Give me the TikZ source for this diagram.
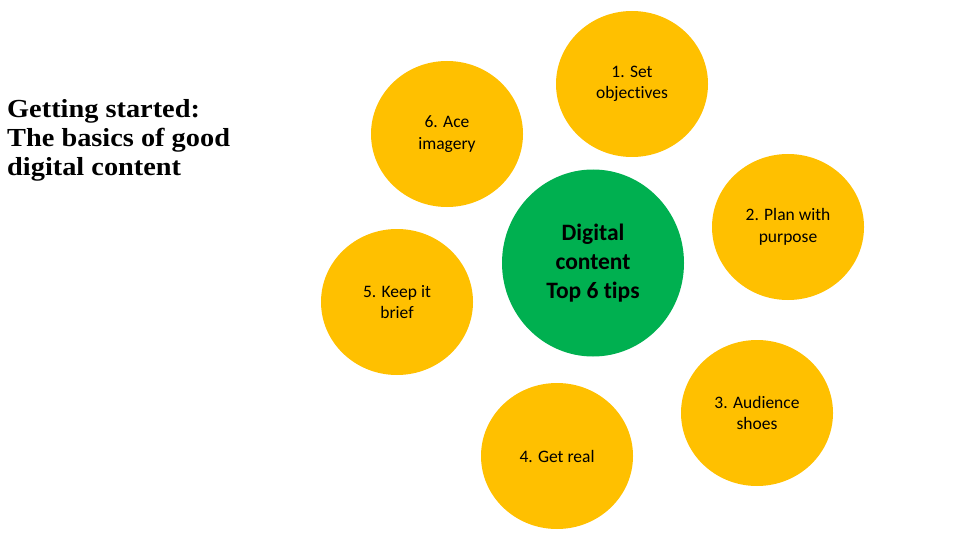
\documentclass[tikz,border=0pt]{standalone}
\usepackage{fontspec}
\usetikzlibrary{shapes.geometric}
\setmainfont{Carlito}[Ligatures=NoCommon]
\newfontfamily\titlefont[FakeStretch=1.09]{Liberation Serif}
\definecolor{tipgold}{HTML}{FFC000}
\definecolor{tipgreen}{HTML}{00B050}
\begin{document}
\begin{tikzpicture}[x=1pt,y=-1pt,
  tipbox/.style={ellipse,fill=tipgold,draw=none,minimum width=152pt,minimum height=146pt,inner sep=0pt,align=center,font=\fontsize{17.5}{21.5}\selectfont},
  hubbox/.style={ellipse,fill=tipgreen,draw=none,minimum width=182pt,minimum height=187pt,inner sep=0pt,align=center,font=\bfseries\fontsize{23.5}{29}\selectfont}]
\useasboundingbox (0,0) rectangle (960,540);
\fill[white] (0,0) rectangle (960,540);
\node[anchor=west,inner sep=0pt,align=left,font=\titlefont\bfseries\fontsize{26}{29}\selectfont] (title) at (7,140) {Getting started:\\The basics of good\\digital content};
\node[hubbox] (hub) at (593,263) {Digital\\content\\Top 6 tips};
\node[tipbox] (t1) at (632,84) {1. Set\\objectives};
\node[tipbox] (t6) at (447,134) {6. Ace\\imagery};
\node[tipbox] (t2) at (788,227) {2. Plan with\\purpose};
\node[tipbox] (t5) at (397,302) {5. Keep it\\brief};
\node[tipbox] (t3) at (757,413) {3. Audience\\shoes};
\node[tipbox] (t4) at (557,456) {4. Get real};
\end{tikzpicture}
\end{document}
